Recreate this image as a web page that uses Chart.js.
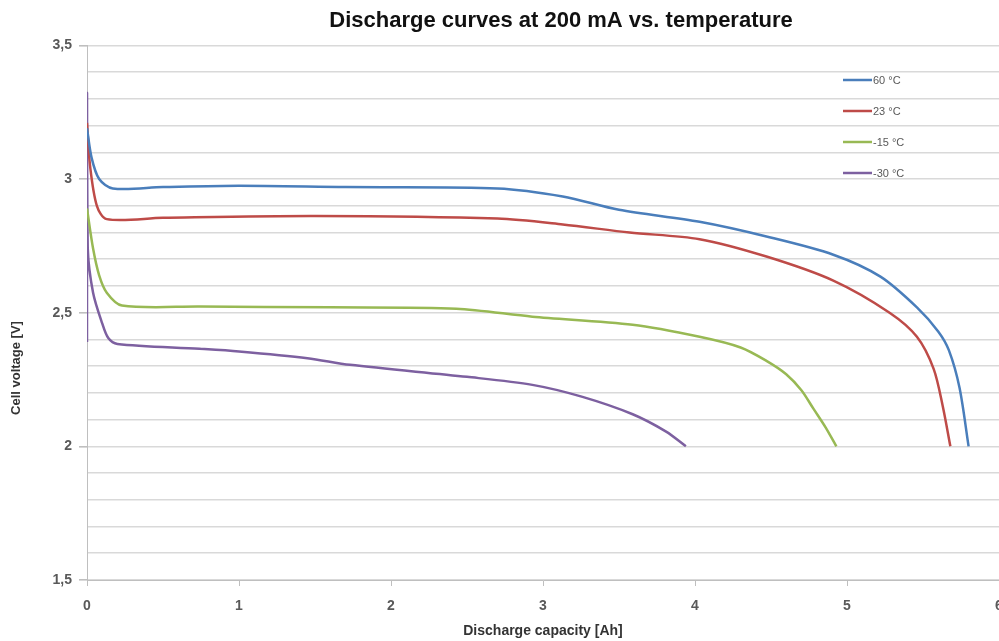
<!DOCTYPE html>
<html>
<head>
  <meta charset="utf-8">
  <title>Discharge curves</title>
  <script src="https://cdn.jsdelivr.net/npm/chart.js"></script>
  <style>
    html,body{margin:0;padding:0;background:#fff;overflow:hidden;}
    #clip{width:999px;height:641px;overflow:hidden;}
    #box{width:1122px;height:641px;}
  </style>
</head>
<body>
  <div id="clip"><div id="box"><canvas id="chart"></canvas></div></div>
  <script>
    // series labels and colours
    const labels = ['60 °C', '23 °C', '-15 °C', '-30 °C'];
    const colors = ['#4a7ebb', '#be4b48', '#98b954', '#7d60a0'];

    // [capacity Ah, voltage V]
    const t60 = [[0,3.19],[0.03,3.08],[0.08,3.0],[0.17,2.965],[0.5,2.97],[1,2.975],[1.7,2.97],[2.7,2.965],[3.13,2.935],[3.5,2.885],[4.03,2.84],[4.47,2.785],[4.91,2.717],[5.22,2.635],[5.46,2.52],[5.6,2.43],[5.67,2.36],[5.74,2.22],[5.8,2.0]];
    const t23 = [[0,3.21],[0.02,3.05],[0.065,2.9],[0.13,2.85],[0.5,2.855],[1.5,2.862],[2.7,2.852],[3.13,2.83],[3.57,2.80],[4.03,2.775],[4.47,2.71],[4.91,2.62],[5.28,2.50],[5.46,2.41],[5.57,2.29],[5.63,2.15],[5.68,2.0]];
    const tm15 = [[0,2.89],[0.04,2.74],[0.08,2.64],[0.13,2.575],[0.23,2.527],[0.74,2.523],[1.6,2.52],[2.43,2.515],[2.93,2.485],[3.59,2.455],[4.03,2.41],[4.3,2.37],[4.47,2.32],[4.6,2.27],[4.7,2.21],[4.78,2.14],[4.86,2.07],[4.93,2.0]];
    const tm30 = [[0,2.39],[0,3.32],[0.005,2.74],[0.04,2.575],[0.1,2.46],[0.14,2.405],[0.2,2.383],[0.74,2.365],[1,2.355],[1.45,2.33],[1.73,2.305],[2.5,2.26],[2.93,2.23],[3.26,2.185],[3.59,2.12],[3.81,2.055],[3.94,2.0]];
    const series = [t60, t23, tm15, tm30];

    const xTicks = [0, 1, 2, 3, 4, 5, 6];
    const yTickLabels = {'1.5':'1,5', '2':'2', '2.5':'2,5', '3':'3', '3.5':'3,5'};
    const yTitle = 'Cell voltage [V]';

    const txt = '#595959';
    const grid = '#d9d9d9';
    const fam = '"Liberation Sans", Arial, sans-serif';

    const key = v => String(Math.round(v * 10) / 10);

    const extrasPlugin = {
      id: 'extras',
      afterDraw(chart) {
        const c = chart.ctx;
        c.save();
        // legend inside the plot
        c.font = '11px ' + fam;
        c.textBaseline = 'middle';
        chart.data.datasets.forEach((ds, i) => {
          const y = 80 + i * 31;
          c.strokeStyle = ds.borderColor;
          c.lineWidth = 2.5;
          c.beginPath(); c.moveTo(843, y); c.lineTo(872, y); c.stroke();
          c.fillStyle = txt;
          c.fillText(ds.label, 873, y + 1);
        });
        // y axis title, sits lower than the middle like the original
        c.translate(16, 368);
        c.rotate(-Math.PI / 2);
        c.textAlign = 'center';
        c.fillStyle = '#333';
        c.font = 'bold 13px ' + fam;
        c.fillText(yTitle, 0, 0);
        c.restore();
      }
    };

    new Chart(document.getElementById('chart'), {
      type: 'line',
      data: {
        datasets: series.map((s, i) => ({
          label: labels[i],
          data: s.map(p => ({x: p[0], y: p[1]})),
          borderColor: colors[i],
          backgroundColor: colors[i],
          borderWidth: 2.5,
          pointRadius: 0,
          tension: 0.3,
          fill: false
        }))
      },
      options: {
        responsive: true,
        maintainAspectRatio: false,
        animation: false,
        layout: {padding: {left: 0, right: 0, top: 6, bottom: 0}},
        plugins: {
          legend: {display: false},
          tooltip: {enabled: false},
          title: {
            display: true,
            text: 'Discharge curves at 200 mA vs. temperature',
            color: '#111',
            font: {family: fam, size: 22, weight: 'bold'},
            padding: {top: 2, bottom: 11}
          }
        },
        scales: {
          x: {
            type: 'linear',
            min: 0, max: 6,
            afterBuildTicks: s => { s.ticks = xTicks.map(v => ({value: v})); },
            afterFit: s => { s.height = 61; },
            ticks: {color: txt, padding: 12, font: {family: fam, size: 14, weight: 'bold'}},
            grid: {drawOnChartArea: false, tickLength: 6, color: '#bfbfbf'},
            border: {color: '#bfbfbf'},
            title: {display: true, text: 'Discharge capacity [Ah]', color: '#333',
              font: {family: fam, size: 14, weight: 'bold'}, padding: {top: 0, bottom: 1}}
          },
          y: {
            min: 1.5, max: 3.5,
            afterFit: s => { s.width = 87; },
            ticks: {
              stepSize: 0.1, autoSkip: false, color: txt, padding: 7,
              font: {family: fam, size: 14, weight: 'bold'},
              callback: v => yTickLabels[key(v)] || ''
            },
            grid: {
              color: grid, lineWidth: 1.6, tickLength: 8,
              tickColor: ctx => yTickLabels[key(ctx.tick.value)] ? '#bfbfbf' : 'rgba(0,0,0,0)'
            },
            border: {color: '#bfbfbf'}
          },
          // empty right-hand box so the plot runs past the picture edge
          yRight: {
            position: 'right',
            min: 1.5, max: 3.5,
            afterFit: s => { s.width = 123; },
            ticks: {display: false},
            grid: {drawOnChartArea: false, drawTicks: false},
            border: {display: false}
          }
        }
      },
      plugins: [extrasPlugin]
    });
  </script>
</body>
</html>
